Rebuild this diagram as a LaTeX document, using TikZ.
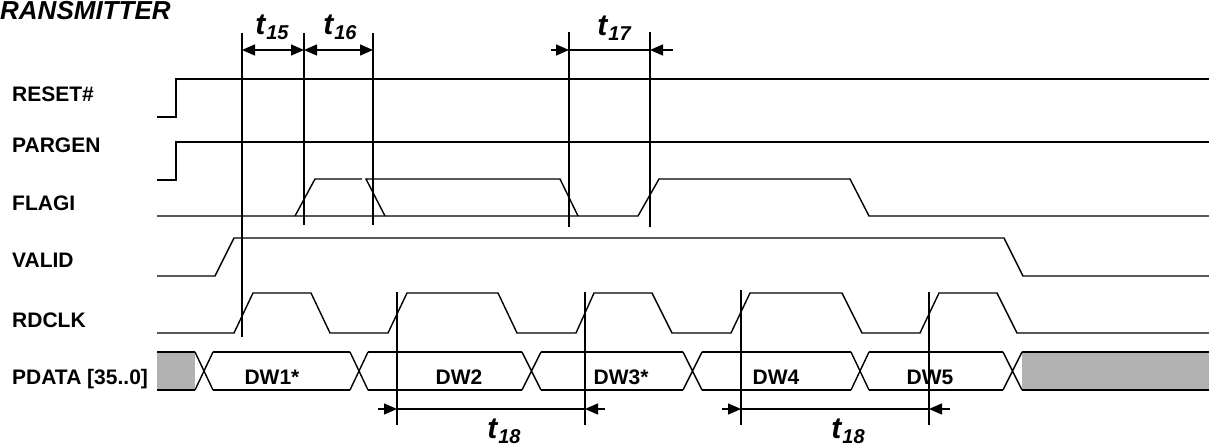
\documentclass[tikz,border=0pt]{standalone}
\usepackage{fontspec}
\setmainfont{Liberation Sans}
\usetikzlibrary{arrows.meta}

\newcommand{\tname}[1]{\fontsize{30}{30}\selectfont t\kern1pt\raisebox{-5pt}{\fontsize{20}{20}\selectfont #1}}

\begin{document}
\begin{tikzpicture}[x=1pt,y=-1pt]

\tikzstyle{wave}=[line width=1.4pt, line join=miter]
\tikzstyle{marker}=[line width=1.4pt]
\tikzstyle{signal}=[anchor=base west, inner sep=0pt, font=\bfseries\fontsize{21}{21}\selectfont]
\tikzstyle{word}=[anchor=base, inner sep=0pt, font=\bfseries\fontsize{21}{21}\selectfont]
\tikzstyle{timing}=[anchor=base, inner sep=0pt, font=\bfseries\itshape]
\tikzstyle{dim}=[line width=1.4pt, -{Triangle[length=13pt,width=11pt]}]
\tikzstyle{both}=[line width=1.4pt, {Triangle[length=13pt,width=11pt]}-{Triangle[length=13pt,width=11pt]}]
\tikzstyle{invalid}=[fill=black!30]

\useasboundingbox (0,0) rectangle (1209,446);

\node [anchor=base west, inner sep=0pt, font=\bfseries\itshape\fontsize{26}{26}\selectfont] (title) at (0,20) {RANSMITTER};

\node [signal] (label_reset) at (12,102) {RESET\#};
\node [signal] (label_pargen) at (12,153) {PARGEN};
\node [signal] (label_flagi) at (12,211) {FLAGI};
\node [signal] (label_valid) at (12,268) {VALID};
\node [signal] (label_rdclk) at (12,327) {RDCLK};
\node [signal] (label_pdata) at (12,384) {PDATA [35..0]};

% waveforms
\draw[wave] (157,117) -- (176,117) -- (176,79) -- (1209,79);
\draw[wave] (157,180) -- (176,180) -- (176,142) -- (1209,142);

\draw[wave] (157,216) -- (638,216) -- (659,179) -- (850,179) -- (869,216) -- (1209,216);
\draw[wave] (295,216) -- (315,179) -- (362,179);
\draw[wave] (385,216) -- (366,179) -- (560,179) -- (578,216);

\draw[wave] (157,276) -- (215,276) -- (234,238) -- (1004,238) -- (1023,276) -- (1209,276);

\draw[wave] (157,333) -- (234,333) -- (253,293) -- (311,293) -- (330,333) -- (388,333)
  -- (407,293) -- (498,293) -- (517,333) -- (576,333) -- (594,293) -- (652,293)
  -- (672,333) -- (731,333) -- (750,293) -- (842,293) -- (862,333) -- (920,333)
  -- (939,293) -- (997,293) -- (1017,333) -- (1209,333);

% data bus
\fill[invalid] (157,352) rectangle (195,390);
\fill[invalid] (1022,352) rectangle (1209,390);
\foreach \a/\b in {157/195, 213/350, 368/522, 541/683, 702/851, 869/1003, 1022/1209}
  \draw[wave] (\a,352) -- (\b,352) (\a,390) -- (\b,390);
\foreach \a/\b in {195/213, 350/368, 522/541, 683/702, 851/869, 1003/1022}
  \draw[wave] (\a,352) -- (\b,390) (\a,390) -- (\b,352);

\node [word] (dw1) at (272,384) {DW1*};
\node [word] (dw2) at (459,384) {DW2};
\node [word] (dw3) at (621,384) {DW3*};
\node [word] (dw4) at (776,384) {DW4};
\node [word] (dw5) at (930,384) {DW5};

% markers
\draw[marker] (242,33) -- (242,337);
\draw[marker] (304,33) -- (304,225);
\draw[marker] (373,33) -- (373,225);
\draw[marker] (569,32) -- (569,227);
\draw[marker] (650,32) -- (650,227);
\draw[marker] (397,292) -- (397,425);
\draw[marker] (585,292) -- (585,425);
\draw[marker] (741,290) -- (741,425);
\draw[marker] (929,292) -- (929,425);

\coordinate (t15_left) at (242,50);
\coordinate (t15_right) at (304,50);
\coordinate (t16_right) at (373,50);
\coordinate (t17_tail_l) at (551,50);
\coordinate (t17_left) at (569,50);
\coordinate (t17_right) at (650,50);
\coordinate (t17_tail_r) at (673,50);

\coordinate (t18a_tail_l) at (378,409);
\coordinate (t18a_left) at (397,409);
\coordinate (t18a_right) at (585,409);
\coordinate (t18a_tail_r) at (605,409);
\coordinate (t18b_tail_l) at (722,409);
\coordinate (t18b_left) at (741,409);
\coordinate (t18b_right) at (929,409);
\coordinate (t18b_tail_r) at (950,409);

\draw[both] (t15_left) -- (t15_right);
\draw[both] (t15_right) -- (t16_right);

\draw[dim] (t17_tail_l) -- (t17_left);
\draw[dim] (t17_tail_r) -- (t17_right);
\draw[marker] (t17_left) -- (t17_right);

\draw[dim] (t18a_tail_l) -- (t18a_left);
\draw[dim] (t18a_tail_r) -- (t18a_right);
\draw[marker] (t18a_left) -- (t18a_right);
\draw[dim] (t18b_tail_l) -- (t18b_left);
\draw[dim] (t18b_tail_r) -- (t18b_right);
\draw[marker] (t18b_left) -- (t18b_right);

\node [timing] (label_t15) at (272,35) {\tname{15}};
\node [timing] (label_t16) at (340,35) {\tname{16}};
\node [timing] (label_t17) at (614,36) {\tname{17}};
\node [timing] (label_t18a) at (504,438) {\tname{18}};
\node [timing] (label_t18b) at (848,438) {\tname{18}};

\end{tikzpicture}
\end{document}
